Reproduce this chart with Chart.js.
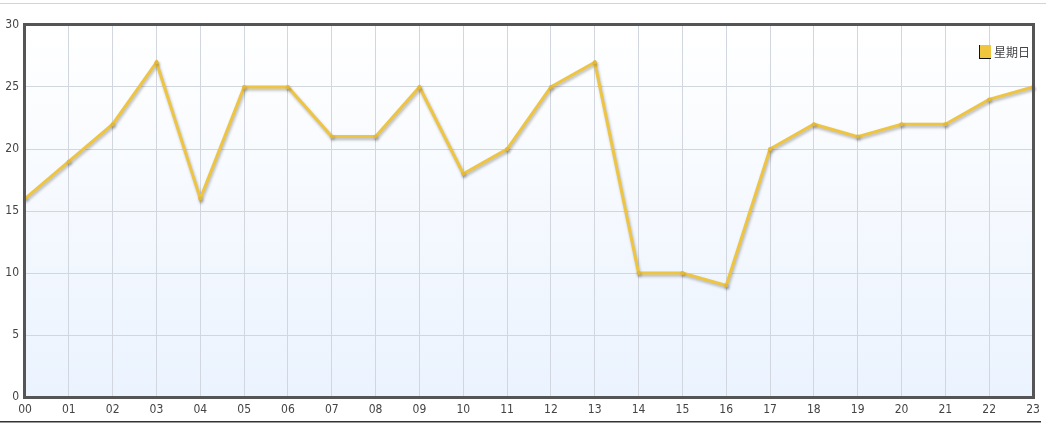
<!DOCTYPE html>
<html>
<head>
<meta charset="utf-8">
<script src="https://cdn.jsdelivr.net/npm/chart.js@4.4.0/dist/chart.umd.min.js"></script>
<style>
  html, body { margin: 0; padding: 0; background: #fff; }
  #wrap { width: 1054px; height: 428px; position: relative; }
</style>
</head>
<body>
<div id="wrap"><canvas id="myChart" width="1054" height="428"></canvas></div>
<script>
var hours = ["00","01","02","03","04","05","06","07","08","09","10","11","12","13","14","15","16","17","18","19","20","21","22","23"];
var sundayValues = [16, 19, 22, 27, 16, 25, 25, 21, 21, 25, 18, 20, 25, 27, 10, 10, 9, 20, 22, 21, 22, 22, 24, 25];
var yTicks = [0, 5, 10, 15, 20, 25, 30];
var seriesName = "星期日";

var tickFont = { family: "'DejaVu Sans Condensed', 'Liberation Sans Narrow', sans-serif", size: 12 };

// background gradient + frame lines
var framePlugin = {
  id: "frame",
  beforeDraw: function (chart) {
    var ctx = chart.ctx, a = chart.chartArea;
    ctx.save();
    var g = ctx.createLinearGradient(0, a.top, 0, a.bottom);
    g.addColorStop(0, "#ffffff");
    g.addColorStop(1, "#ebf3fe");
    ctx.fillStyle = g;
    ctx.fillRect(a.left, a.top, a.right - a.left, a.bottom - a.top);
    // thin top rule of the page
    ctx.fillStyle = "#d4d4d4";
    ctx.fillRect(0, 3, 1046, 1);
    // bottom rule
    ctx.fillStyle = "#333";
    ctx.fillRect(0, 421, 1041, 1.5);
    ctx.restore();
  },
  afterDraw: function (chart) {
    var ctx = chart.ctx, a = chart.chartArea;
    ctx.save();
    ctx.strokeStyle = "#555";
    ctx.lineWidth = 3;
    ctx.strokeRect(a.left - 0.5, a.top - 0.5, a.right - a.left + 1, a.bottom - a.top + 1);

    // legend inside the top right corner
    var ds = chart.data.datasets[0];
    var bx = a.right - 53, by = a.top + 20;
    ctx.fillStyle = "#f0c63e";
    ctx.fillRect(bx, by, 11, 13);
    ctx.fillStyle = "#111";
    ctx.fillRect(bx - 1, by, 1, 14);
    ctx.fillRect(bx - 1, by + 13, 12, 1);
    ctx.fillStyle = "#444";
    ctx.font = "12px 'Noto Sans CJK SC', sans-serif";
    ctx.textBaseline = "middle";
    ctx.textAlign = "left";
    ctx.fillText(ds.label, bx + 14, by + 7);
    ctx.restore();
  }
};

var shadowPlugin = {
  id: "lineShadow",
  beforeDatasetsDraw: function (chart) {
    var ctx = chart.ctx;
    ctx.save();
    ctx.shadowColor = "rgba(0,0,0,0.28)";
    ctx.shadowBlur = 3;
    ctx.shadowOffsetX = 1;
    ctx.shadowOffsetY = 2;
  },
  afterDatasetsDraw: function (chart) {
    chart.ctx.restore();
  }
};

var ctx = document.getElementById("myChart").getContext("2d");
var myLineChart = new Chart(ctx, {
  type: "line",
  data: {
    labels: hours,
    datasets: [
      {
        label: seriesName,
        data: sundayValues,
        borderColor: "#eec443",
        backgroundColor: "#eec443",
        borderWidth: 3,
        pointRadius: 2,
        pointBackgroundColor: "#e3b83a",
        pointBorderWidth: 0,
        tension: 0,
        fill: false
      }
    ]
  },
  options: {
    responsive: false,
    animation: false,
    layout: { padding: { top: 25, right: 21, left: 0, bottom: 0 } },
    plugins: {
      tooltip: { enabled: false },
      legend: { display: false }
    },
    scales: {
      x: {
        offset: false,
        grid: { color: "#d2d6de", lineWidth: 1, drawTicks: false },
        border: { display: false },
        ticks: { color: "#444", font: tickFont, padding: 6, maxRotation: 0, autoSkip: false },
        afterFit: function (scale) { scale.height = 31; }
      },
      y: {
        min: 0,
        max: 30,
        afterBuildTicks: function (scale) {
          scale.ticks = yTicks.map(function (v) { return { value: v }; });
        },
        grid: { color: "#d2d6de", lineWidth: 1, drawTicks: false },
        border: { display: false },
        ticks: {
          color: "#444",
          font: tickFont,
          padding: 6,
          callback: function (v) { return String(v); }
        },
        afterFit: function (scale) { scale.width = 25; }
      }
    }
  },
  plugins: [framePlugin, shadowPlugin]
});
</script>
</body>
</html>
